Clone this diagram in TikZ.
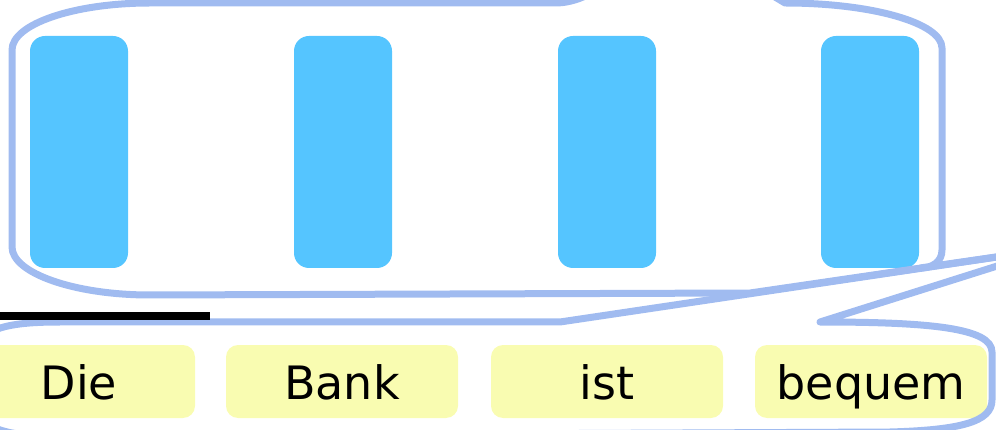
\documentclass[tikz,border=0pt]{standalone}
\usepackage{fontspec}
\setmainfont{DejaVu Sans}
\usepackage{xcolor}
\definecolor{BubbleBlue}{HTML}{A0BBF0}
\definecolor{UnitBlue}{HTML}{55C5FF}
\definecolor{WordYellow}{HTML}{F9FCB1}

\begin{document}
\begin{tikzpicture}[x=1pt, y=-1pt,
    unit/.style={fill=UnitBlue, rounded corners=15pt, minimum width=98pt, minimum height=232pt, inner sep=0pt},
    word/.style={fill=WordYellow, rounded corners=12pt, minimum width=232pt, minimum height=73pt, inner sep=0pt,
                 text height=35pt, text depth=0pt, font=\fontsize{46}{55}\selectfont},
    bubble/.style={draw=BubbleBlue, line width=7pt, line join=round, line cap=round}]
    \useasboundingbox (0,0) rectangle (996,430);
    \clip (0,0) rectangle (996,430);

    % Hidden units
    \node[unit] (h1) at (79, 152) {};
    \node[unit] (h2) at (343, 152) {};
    \node[unit] (h3) at (607, 152) {};
    \node[unit] (h4) at (870, 152) {};

    % Words
    \node[word] (w1) at (79, 381.5) {Die};
    \node[word] (w2) at (342, 381.5) {Bank};
    \node[word] (w3) at (607, 381.5) {ist};
    \node[word] (w4) at (871, 381.5) {bequem};

    % Callouts
    \draw[bubble] (150,3) -- (555,3) .. controls (565,3) and (575,1) .. (590,-6) -- (680,-60) -- (785,3)
        .. controls (872,3) and (942,23) .. (942,48) -- (942,250)
        .. controls (942,262) and (932,268) .. (920,268) -- (1051,249) -- (750,293) -- (150,295)
        .. controls (74,295) and (12,273) .. (12,247) -- (12,50)
        .. controls (12,24) and (74,3) .. cycle;

    \draw[bubble] (60,322) -- (560,322) -- (1051,249) -- (820,322)
        .. controls (930,322) and (992,328) .. (992,352) -- (992,400)
        .. controls (992,422) and (960,430) .. (890,432) -- (60,436)
        .. controls (0,436) and (-30,430) .. (-30,380) -- (-30,370)
        .. controls (-30,330) and (0,322) .. cycle;

    \fill[black] (0,312) rectangle (210,320);
\end{tikzpicture}
\end{document}
